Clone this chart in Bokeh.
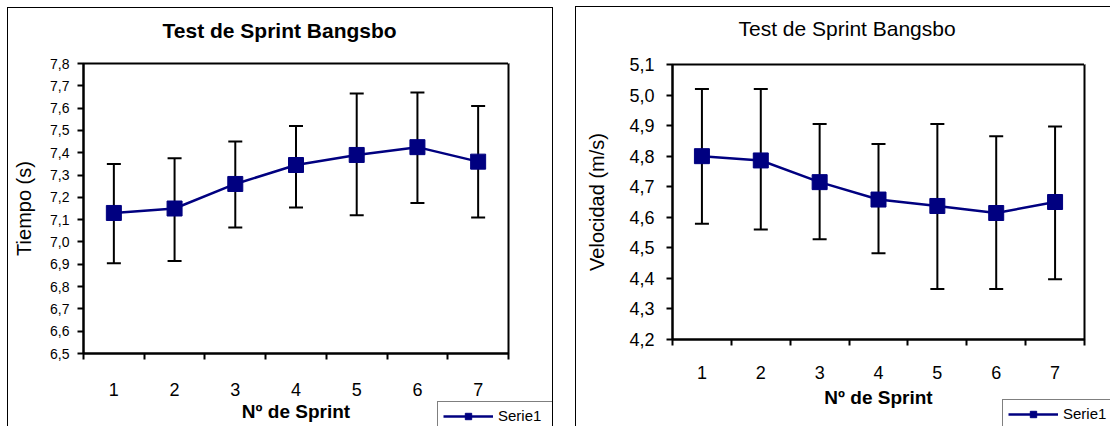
from bokeh.plotting import figure
from bokeh.models import (ColumnDataSource, Range1d, FixedTicker, Whisker, TeeHead,
                          Legend, LegendItem, LinearAxis, Title)
from bokeh.layouts import row
from bokeh.embed import file_html
from bokeh.resources import INLINE

FONT = "Liberation Sans"

# ---------------- data ----------------
sprints = [1, 2, 3, 4, 5, 6, 7]
sprint_labels = ["1", "2", "3", "4", "5", "6", "7"]

tiempo_media = [7.13, 7.15, 7.26, 7.345, 7.39, 7.425, 7.36]
tiempo_sup = [7.35, 7.375, 7.45, 7.52, 7.665, 7.67, 7.61]
tiempo_inf = [6.905, 6.915, 7.065, 7.155, 7.12, 7.175, 7.11]
tiempo_ticks = [6.5, 6.6, 6.7, 6.8, 6.9, 7.0, 7.1, 7.2, 7.3, 7.4, 7.5, 7.6, 7.7, 7.8]

vel_media = [4.80, 4.786, 4.715, 4.658, 4.637, 4.614, 4.65]
vel_sup = [5.02, 5.02, 4.905, 4.84, 4.905, 4.865, 4.897]
vel_inf = [4.579, 4.56, 4.528, 4.482, 4.365, 4.365, 4.397]
vel_ticks = [4.2, 4.3, 4.4, 4.5, 4.6, 4.7, 4.8, 4.9, 5.0, 5.1]

titulo = "Test de Sprint Bangsbo"
eje_x = "Nº de Sprint"
serie = "Serie1"

NAVY = "#000080"


def make_chart(media, sup, inf, yticks, ylabel, title_bold, cfg):
    src = ColumnDataSource(dict(x=sprints, y=media, upper=sup, lower=inf))
    p = figure(width=cfg["w"], height=cfg["h"], output_backend="svg", toolbar_location=None,
               x_range=Range1d(0.5, 7.5), y_range=Range1d(yticks[0], yticks[-1]),
               min_border_left=cfg["bl"], min_border_right=cfg["br"],
               min_border_top=cfg["bt"], min_border_bottom=cfg["bb"],
               margin=cfg["margin"], title=None, frame_align=False,
               styles={"outline": "1px solid black"})
    p.background_fill_color = "white"
    p.border_fill_color = "white"
    p.outline_line_color = "black"
    p.outline_line_width = 2
    p.xgrid.visible = False
    p.ygrid.visible = False

    # invisible spacer (white tick on white) between the frame and the title
    spacer = LinearAxis(ticker=FixedTicker(ticks=[7.5], minor_ticks=[]),
                        major_tick_out=cfg["sp"], major_tick_in=0,
                        minor_tick_out=0, minor_tick_in=0, major_label_standoff=0,
                        major_label_overrides={7.5: ""}, major_label_text_font_size="1px",
                        major_label_text_color="white",
                        axis_label_standoff=0, axis_line_color=None,
                        major_tick_line_color="white", major_tick_line_width=1)
    p.add_layout(spacer, "above")

    t = Title(text=titulo, align="left", offset=cfg["toff"], standoff=0,
              text_font=FONT, text_font_size="21px",
              text_font_style="bold" if title_bold else "normal", text_color="black")
    p.add_layout(t, "above")

    # x axis (category style: ticks at boundaries, labels centred)
    xa = p.below[0]
    xa.ticker = FixedTicker(ticks=sprints, minor_ticks=[0.5, 1.5, 2.5, 3.5, 4.5, 5.5, 6.5, 7.5])
    xa.major_label_overrides = {s: l for s, l in zip(sprints, sprint_labels)}
    xa.major_tick_out = 0
    xa.major_tick_in = 0
    xa.minor_tick_out = 6
    xa.minor_tick_in = 0
    xa.minor_tick_line_color = "black"
    xa.minor_tick_line_width = 2
    xa.axis_line_color = "black"
    xa.axis_line_width = 2
    xa.major_label_text_font = FONT
    xa.major_label_text_font_size = "18px"
    xa.major_label_text_color = "black"
    xa.major_label_standoff = cfg["xstand"]
    xa.axis_label = eje_x
    xa.axis_label_text_font = FONT
    xa.axis_label_text_font_size = "19px"
    xa.axis_label_text_font_style = "bold"
    xa.axis_label_text_color = "black"
    xa.axis_label_standoff = cfg["xlstand"]

    ya = p.left[0]
    ya.ticker = FixedTicker(ticks=yticks, minor_ticks=[])
    ya.major_label_overrides = {t: ("%.1f" % t).replace(".", ",") for t in yticks}
    ya.major_tick_out = 6
    ya.major_tick_in = 0
    ya.major_tick_line_color = "black"
    ya.major_tick_line_width = 2
    ya.axis_line_color = "black"
    ya.axis_line_width = 2
    ya.major_label_text_font = FONT
    ya.major_label_text_font_size = cfg["yfs"]
    ya.major_label_text_color = "black"
    ya.major_label_standoff = cfg["ystand"]
    ya.axis_label = ylabel
    ya.axis_label_text_font = FONT
    ya.axis_label_text_font_size = "20px"
    ya.axis_label_text_font_style = "normal"
    ya.axis_label_text_color = "black"
    ya.axis_label_standoff = cfg["ylstand"]

    wh = Whisker(base="x", upper="upper", lower="lower", source=src,
                 line_color="black", line_width=2, level="underlay",
                 upper_head=TeeHead(size=14, line_color="black", line_width=2),
                 lower_head=TeeHead(size=14, line_color="black", line_width=2))
    p.add_layout(wh)

    p.line("x", "y", source=src, line_color=NAVY, line_width=2.5)
    p.scatter("x", "y", source=src, marker="square", size=15,
              fill_color=NAVY, line_color=NAVY)
    return p, src


def make_legend_box(src, cfg):
    # small overlay figure that only carries the legend box (series drawn off-range)
    q = figure(width=cfg["lw"], height=cfg["lh"], output_backend="svg", toolbar_location=None,
               x_range=Range1d(100, 101), y_range=Range1d(100, 101),
               min_border=0, x_axis_location=None, y_axis_location=None,
               margin=cfg["lmargin"], frame_align=False)
    q.outline_line_color = None
    q.background_fill_alpha = 0
    q.border_fill_alpha = 0
    q.grid.visible = False
    ln = q.line("x", "y", source=src, line_color=NAVY, line_width=2.5)
    mk = q.scatter("x", "y", source=src, marker="square", size=12,
                   fill_color=NAVY, line_color=NAVY)
    leg = Legend(items=[LegendItem(label=serie, renderers=[ln, mk])],
                 location="top_left", orientation="vertical",
                 glyph_width=50, glyph_height=16, label_standoff=5, label_width=50,
                 padding=5, margin=0, spacing=0,
                 label_text_font=FONT, label_text_font_size="15px", label_text_color="black",
                 border_line_color="black", border_line_width=1.5,
                 background_fill_color="white", background_fill_alpha=1.0)
    q.add_layout(leg)
    return q


left_cfg = dict(w=544, h=418, bl=75, br=44, bt=55, bb=73, margin=(8, 0, 0, 8),
                toff=79, sp=22, xstand=23, xlstand=2, yfs="14px", ystand=8, ylstand=12,
                lw=115, lh=25, lmargin=(401, 0, 0, -115))
right_cfg = dict(w=534, h=419, bl=96, br=26, bt=57, bb=87, margin=(7, 0, 0, 24),
                 toff=66, sp=25, xstand=20, xlstand=5, yfs="18px", ystand=12, ylstand=18,
                 lw=108, lh=27, lmargin=(399, 0, 0, -108))

p1, s1 = make_chart(tiempo_media, tiempo_sup, tiempo_inf, tiempo_ticks, "Tiempo (s)", True, left_cfg)
p2, s2 = make_chart(vel_media, vel_sup, vel_inf, vel_ticks, "Velocidad (m/s)", False, right_cfg)
l1 = make_legend_box(s1, left_cfg)
l2 = make_legend_box(s2, right_cfg)

layout = row(p1, l1, p2, l2)
open("out.html", "w").write(file_html(layout, INLINE))
